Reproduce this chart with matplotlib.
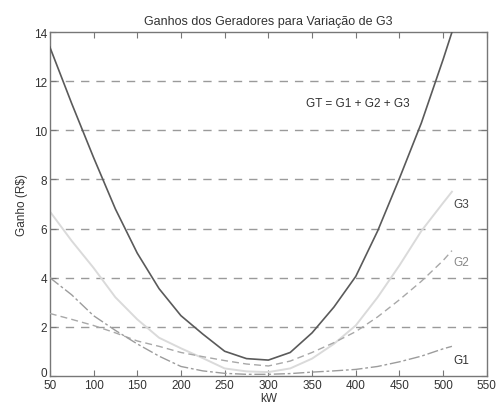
import matplotlib
matplotlib.use("Agg")
import matplotlib.pyplot as plt
import matplotlib.transforms as mtransforms

plt.rcParams['font.family'] = ['Liberation Sans', 'DejaVu Sans']

# kW values where the curves were read
kw = [50, 75, 100, 125, 150, 175, 200, 225, 250, 275, 300, 325, 350, 375, 400, 425, 450, 475, 500, 510]

# gains (R$)
g1 = [4.0, 3.3, 2.45, 1.85, 1.3, 0.8, 0.38, 0.2, 0.1, 0.06, 0.06, 0.09, 0.15, 0.2, 0.26, 0.38, 0.57, 0.8, 1.1, 1.2]
g2 = [2.54, 2.3, 2.05, 1.75, 1.42, 1.2, 0.95, 0.78, 0.62, 0.48, 0.4, 0.6, 0.95, 1.35, 1.8, 2.4, 3.1, 3.85, 4.7, 5.1]
g3 = [6.7, 5.5, 4.4, 3.2, 2.3, 1.55, 1.12, 0.72, 0.3, 0.18, 0.15, 0.3, 0.7, 1.3, 2.05, 3.2, 4.5, 5.9, 7.05, 7.5]
gt = [13.4, 11.1, 8.9, 6.8, 5.0, 3.55, 2.45, 1.7, 1.0, 0.7, 0.64, 0.95, 1.75, 2.8, 4.05, 5.9, 8.05, 10.3, 12.9, 14.0]

fig = plt.figure(figsize=(5.03, 4.10), dpi=100)
ax = fig.add_axes([0.099, 0.081, 0.869, 0.838])

for y in range(2, 14, 2):
    ax.axhline(y, color='#9a9a9a', lw=1.0, ls=(0, (6, 5)), zorder=1)

ax.plot(kw, g3, color='#dadada', lw=1.4, zorder=2)
ax.plot(kw, g2, color='#a8a8a8', lw=1.0, ls=(0, (5, 3)), zorder=3)
ax.plot(kw, g1, color='#9c9c9c', lw=1.0, ls=(0, (8, 2, 2, 2)), zorder=3)
ax.plot(kw, gt, color='#5a5a5a', lw=1.2, zorder=4)

ax.text(343, 11.1, 'GT = G1 + G2 + G3', fontsize=8.5, color='#333333', va='center')
ax.text(512, 7.0, 'G3', fontsize=8.5, color='#444444', va='center')
ax.text(512, 4.65, 'G2', fontsize=8.5, color='#888888', va='center')
ax.text(512, 0.65, 'G1', fontsize=8.5, color='#333333', va='center')

ax.set_xlim(50, 550)
ax.set_ylim(0, 14)
ax.set_xticks(range(50, 551, 50))
ax.set_yticks(range(0, 15, 2))
ax.tick_params(direction='in', top=True, right=True, length=4, width=0.8,
               colors='#777777', labelcolor='#333333', labelsize=8.5, pad=2)
for s in ax.spines.values():
    s.set_color('#777777')
    s.set_linewidth(1.0)

# lift the "0" label a little so it does not sit on the "50"
fig.canvas.draw()
zero = ax.get_yticklabels()[0]
zero.set_transform(zero.get_transform() + mtransforms.ScaledTranslation(0, 3 / 72, fig.dpi_scale_trans))

ax.set_title('Ganhos dos Geradores para Variação de G3', fontsize=9, color='#333333', pad=6)
ax.set_xlabel('kW', fontsize=8.5, color='#333333', labelpad=1)
ax.set_ylabel('Ganho (R$)', fontsize=8.5, color='#333333', labelpad=4)

fig.savefig('out.png', dpi=100)
